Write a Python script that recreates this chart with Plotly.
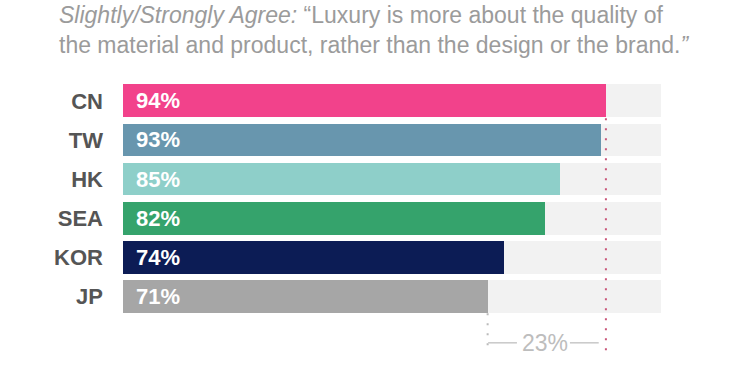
import plotly.graph_objects as go

regions = ["CN", "TW", "HK", "SEA", "KOR", "JP"]
values = [94, 93, 85, 82, 74, 71]
colors = ["#F2428B", "#6896AE", "#8ECFC9", "#35A36C", "#0C1C55", "#A6A6A6"]
background_value = 104.6
gap_label = "23%"

FONT = "Liberation Sans, Arial, sans-serif"
ypos = list(range(len(regions)))

fig = go.Figure()
fig.add_trace(go.Bar(
    x=[background_value] * len(regions), y=ypos, orientation="h",
    marker=dict(color="#F2F2F2", line=dict(width=0)), width=0.846,
    hoverinfo="skip", showlegend=False))
fig.add_trace(go.Bar(
    x=values, y=ypos, orientation="h",
    marker=dict(color=colors, line=dict(width=0)), width=0.846,
    showlegend=False))

for v, y in zip(values, ypos):
    fig.add_annotation(x=0, y=y, xref="x", yref="y", text=f"<b>{v}%</b>",
                       showarrow=False, xanchor="left", xshift=11,
                       font=dict(family=FONT, size=22, color="white"))

top, bottom = max(values), min(values)
# red dotted line at max value
fig.add_shape(type="line", x0=top - 0.1, x1=top - 0.1, y0=0.44, y1=6.46, xref="x", yref="y",
              line=dict(color="#C8577A", width=2, dash="2px,8px"))
# gray dotted line at min value
fig.add_shape(type="line", x0=bottom - 0.1, x1=bottom - 0.1, y0=5.44, y1=6.31, xref="x", yref="y",
              line=dict(color="#BBBBBB", width=2, dash="2px,8px"))
fig.add_shape(type="line", x0=bottom, x1=76.6, y0=6.2, y1=6.2, xref="x", yref="y",
              line=dict(color="#C8C8C8", width=1.5))
fig.add_shape(type="line", x0=86.9, x1=92.5, y0=6.2, y1=6.2, xref="x", yref="y",
              line=dict(color="#C8C8C8", width=1.5))
fig.add_annotation(x=82.0, y=6.2, xref="x", yref="y", text=gap_label, showarrow=False,
                   font=dict(family=FONT, size=23, color="#BDBDBD"))

# faint axis line
fig.add_shape(type="line", x0=-0.35, x1=-0.35, y0=-0.44, y1=5.49, xref="x", yref="y",
              line=dict(color="#DDDDDD", width=1.5))

fig.add_annotation(
    x=(57 - 123) / 576, y=1 + 60 / 305, xref="paper", yref="paper",
    xanchor="left", yanchor="top", align="left", showarrow=False,
    text="<i>Slightly/Strongly Agree:</i> “Luxury is more about the quality of<br>"
         "the material and product, rather than the design or the brand.<i>”</i>",
    font=dict(family=FONT, size=23, color="#9B9B9B"))

fig.update_layout(
    width=750, height=375,
    margin=dict(l=123, r=51, t=60, b=10),
    paper_bgcolor="white", plot_bgcolor="white",
    barmode="overlay", bargap=0,
    xaxis=dict(range=[0, 112], visible=False, fixedrange=True),
    yaxis=dict(range=[6.769, -1.051], tickvals=ypos,
               ticktext=[f"<b>{r}</b>" for r in regions],
               tickfont=dict(family=FONT, size=22, color="#555555"),
               showgrid=False, zeroline=False, showline=False, ticks="",
               ticklabelstandoff=19),
)

fig.write_html("out.html", config={"displayModeBar": False},
               post_script="document.body.style.margin='0';document.body.style.overflow='hidden';")
